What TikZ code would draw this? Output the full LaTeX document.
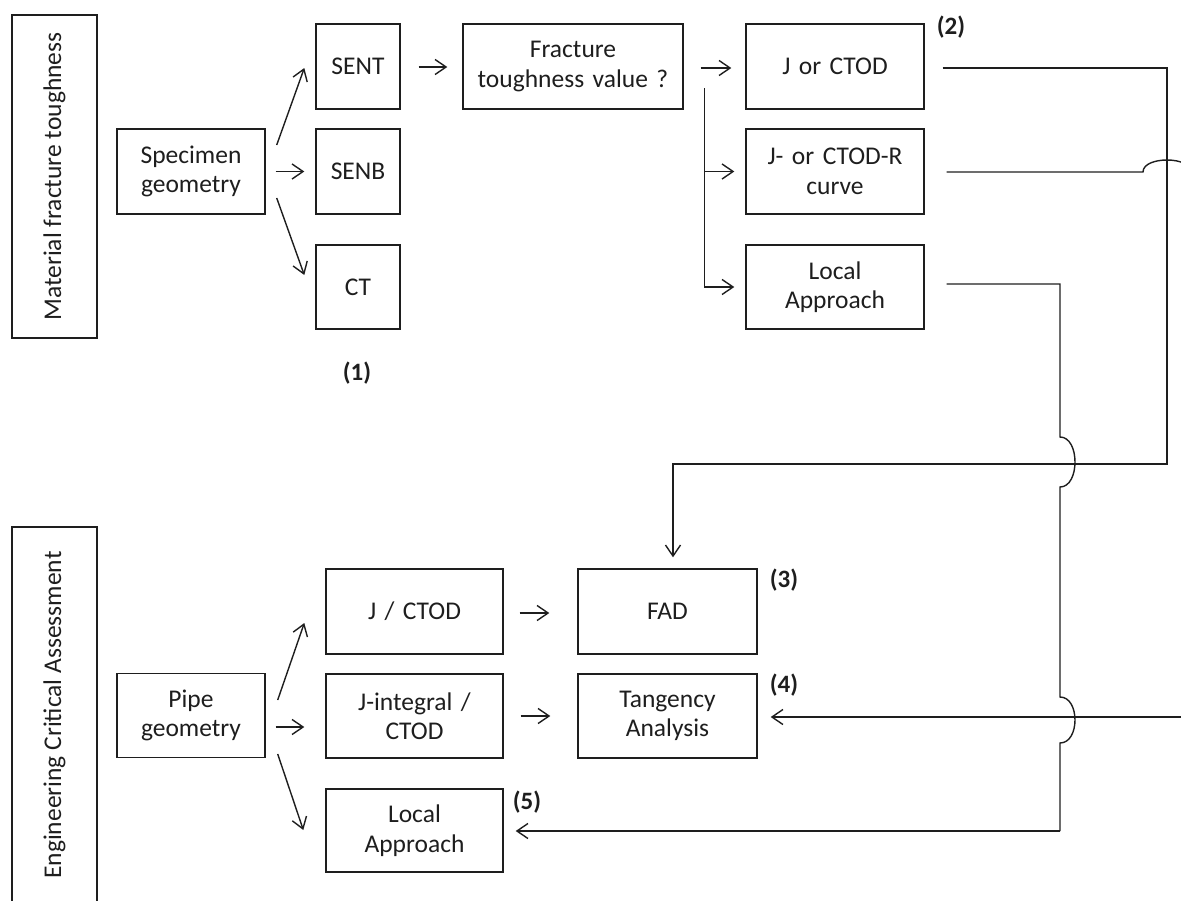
\documentclass[tikz,border=0pt]{standalone}
\usepackage{fontspec}
\setmainfont{Carlito}
\usetikzlibrary{arrows.meta,calc}
\definecolor{ink}{HTML}{1E1E1E}
\begin{document}
\begin{tikzpicture}[x=1pt,y=-1pt,
  every node/.style={font=\fontsize{25.5}{29.5}\selectfont,text=ink},
  box/.style={draw=ink,line width=1.4pt,rectangle,align=center,inner sep=2pt,minimum height=85,text width=#1-6,minimum width=#1},
  side/.style={draw=ink,line width=1.4pt,rectangle,rotate=90,align=center},
  num/.style={font=\fontsize{25}{29}\selectfont\bfseries},
  conn/.style={draw=ink,line width=1.4pt},
  arr/.style={conn,-{Straight Barb[length=11pt,width=15pt,line width=1.4pt]}}]
\useasboundingbox (0,0) rectangle (1181,900);
% side labels
\node[side,minimum width=323,minimum height=85] (mft) at (54.5,176.5) {Material fracture toughness};
\node[side,minimum width=376,minimum height=85] (eca) at (54.5,715) {Engineering Critical Assessment};
% top section
\node[box=148] (spec) at (191,171.5) {Specimen\\geometry};
\node[box=84] (sent) at (358,66.5) {SENT};
\node[box=84] (senb) at (358,171.5) {SENB};
\node[box=84,minimum height=84] (ct) at (358,287) {CT};
\node[box=220] (ftv) at (573,66.5) {Fracture\\toughness value ?};
\node[box=178] (jc) at (835,66.5) {J or CTOD};
\node[box=178] (jr) at (835,171.5) {J- or CTOD-R\\curve};
\node[box=178,minimum height=84] (la1) at (835,287) {Local\\Approach};
\node[num] (n1) at (357,373) {(1)};
\node[num] (n2) at (951,27) {(2)};
% bottom section
\node[box=148,minimum height=84] (pipe) at (191,715.5) {Pipe\\geometry};
\node[box=177] (jctod) at (414.5,611.5) {J / CTOD};
\node[box=177,minimum height=84] (jint) at (414.5,716) {J-integral /\\CTOD};
\node[box=177,minimum height=83] (la2) at (414.5,830.5) {Local\\Approach};
\node[box=179] (fad) at (667.5,611.5) {FAD};
\node[box=179,minimum height=84] (tan) at (667.5,716) {Tangency\\Analysis};
\node[num] (n3) at (784,580) {(3)};
\node[num] (n4) at (784,685) {(4)};
\node[num] (n5) at (527,802) {(5)};
% arrows top
\draw[arr] ($(spec.east)+(11,-26.5)$) -- ($(sent.west)+(-11,1.5)$);
\draw[arr] ($(spec.east)+(10,0)$) -- ($(senb.west)+(-11,0)$);
\draw[arr] ($(spec.east)+(11,26.5)$) -- ($(ct.west)+(-11,-12)$);
\draw[arr] ($(sent.east)+(18,0.5)$) -- ($(ftv.west)+(-15,0.5)$);
\draw[arr] ($(ftv.east)+(17,1.5)$) -- ($(jc.west)+(-14,1.5)$);
\coordinate (br) at ($(ftv.east)+(21,21.5)$);
\draw[arr] (br) |- ($(la1.west)+(-11,0)$);
\draw[arr] (br|-jr.west) -- ($(jr.west)+(-11,0)$);
% long connectors
\coordinate (rt) at (1167,464);
\draw[arr] ($(jc.east)+(18,1.5)$) -| (rt) -| ($(fad.north)+(5.5,-11)$);
\coordinate (jra) at (1143,172);
\coordinate (jrb) at (1191,172);
\draw[conn] ($(jr.east)+(22,0.5)$) -- (jra) .. controls (1143,156) and (1191,156) .. (jrb);
\coordinate (la1a) at (1060,284);
\coordinate (b1s) at (1060,437);
\coordinate (b1e) at (1060,487);
\coordinate (b2s) at (1060,697);
\coordinate (b2e) at (1060,743);
\coordinate (la1b) at (1060,831);
\draw[conn] ($(la1.east)+(22,-3)$) -- (la1a) -- (b1s) .. controls (1080,437) and (1080,487) .. (b1e)
  -- (b2s) .. controls (1080,697) and (1080,743) .. (b2e) -- (la1b);
\draw[arr] (la1b) -- ($(la2.east)+(12,0.5)$);
\coordinate (rin) at (1190,717);
\draw[arr] (rin) -- ($(tan.east)+(13,1)$);
% arrows bottom
\draw[arr] ($(pipe.east)+(12,-15.5)$) -- ($(jctod.west)+(-21,11.5)$);
\draw[arr] ($(pipe.east)+(10,11.5)$) -- ($(jint.west)+(-21,11)$);
\draw[arr] ($(pipe.east)+(12,38.5)$) -- ($(la2.west)+(-22,-0.5)$);
\draw[arr] ($(jctod.east)+(16,1.5)$) -- ($(fad.west)+(-28,1.5)$);
\draw[arr] ($(jint.east)+(17,0)$) -- ($(tan.west)+(-27,0)$);
\end{tikzpicture}
\end{document}
